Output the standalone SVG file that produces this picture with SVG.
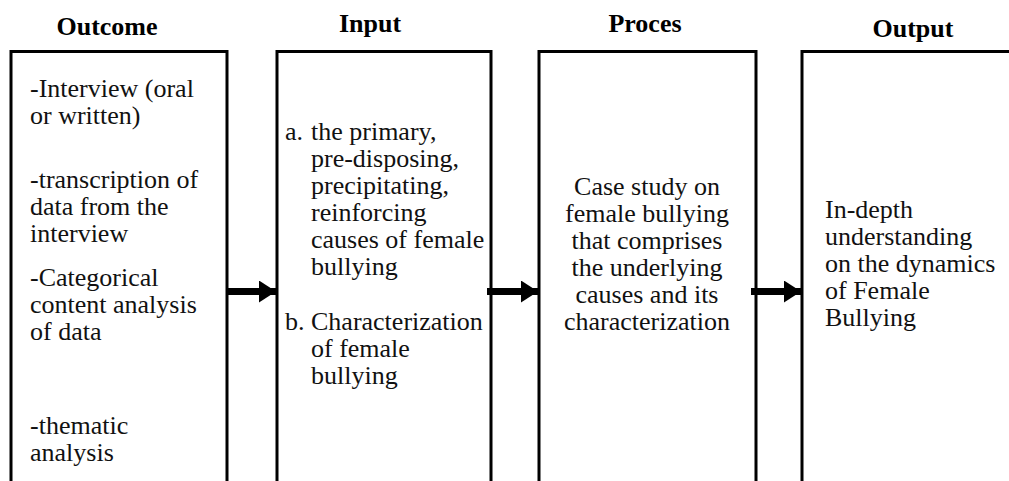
<svg xmlns="http://www.w3.org/2000/svg" width="1009" height="481" viewBox="0 0 1009 481">
<defs>
<style>
.box{fill:#fff;stroke:#000;stroke-width:3}
.t{font-size:26px;fill:#111}
.h{font-size:26px;font-weight:bold;fill:#000}
.c{text-anchor:middle}
.conn{stroke:#000;stroke-width:7;fill:none}
</style>
<marker id="ah" markerUnits="userSpaceOnUse" markerWidth="18" markerHeight="22" refX="17" refY="11" orient="auto">
<path d="M0,0 L17,11 L0,22 Z" fill="#000"/>
</marker>
</defs>
<rect width="1009" height="481" fill="#fff"/>
<g font-family="'Liberation Serif', 'Times New Roman', 'DejaVu Serif', serif">
<g id="outcome">
<text class="h c" x="107" y="35">Outcome</text>
<path class="box" d="M11,490 V51.5 H227 V490"/>
<text class="t"><tspan x="30" y="97">-Interview (oral</tspan><tspan x="30" y="124">or written)</tspan><tspan x="30" y="188">-transcription of</tspan><tspan x="30" y="215">data from the</tspan><tspan x="30" y="242">interview</tspan><tspan x="30" y="286">-Categorical</tspan><tspan x="30" y="313">content analysis</tspan><tspan x="30" y="340">of data</tspan><tspan x="30" y="434">-thematic</tspan><tspan x="30" y="461">analysis</tspan></text>
</g>
<g id="input">
<text class="h c" x="370" y="32">Input</text>
<path class="box" d="M277,490 V51.5 H491 V490"/>
<text class="t"><tspan x="285" y="140">a.</tspan><tspan x="311" y="140">the primary,</tspan><tspan x="311" y="167">pre-disposing,</tspan><tspan x="311" y="194">precipitating,</tspan><tspan x="311" y="221">reinforcing</tspan><tspan x="311" y="248">causes of female</tspan><tspan x="311" y="275">bullying</tspan><tspan x="285" y="330">b.</tspan><tspan x="311" y="330">Characterization</tspan><tspan x="311" y="357">of female</tspan><tspan x="311" y="384">bullying</tspan></text>
</g>
<g id="proces">
<text class="h c" x="645" y="32">Proces</text>
<path class="box" d="M539,490 V51.5 H756 V490"/>
<text class="t c"><tspan x="647" y="195">Case study on</tspan><tspan x="647" y="222">female bullying</tspan><tspan x="647" y="249">that comprises</tspan><tspan x="647" y="276">the underlying</tspan><tspan x="647" y="303">causes and its</tspan><tspan x="647" y="330">characterization</tspan></text>
</g>
<g id="output">
<text class="h c" x="913" y="37">Output</text>
<path class="box" d="M802,490 V51.5 H1015"/>
<text class="t"><tspan x="825" y="218">In-depth</tspan><tspan x="825" y="245">understanding</tspan><tspan x="825" y="272">on the dynamics</tspan><tspan x="825" y="299">of Female</tspan><tspan x="825" y="326">Bullying</tspan></text>
</g>
</g>
<g id="connectors">
<line class="conn" x1="228" y1="291.5" x2="276" y2="291.5" marker-end="url(#ah)"/>
<line class="conn" x1="487" y1="291.5" x2="538" y2="291.5" marker-end="url(#ah)"/>
<line class="conn" x1="751" y1="291.5" x2="801" y2="291.5" marker-end="url(#ah)"/>
</g>
</svg>
